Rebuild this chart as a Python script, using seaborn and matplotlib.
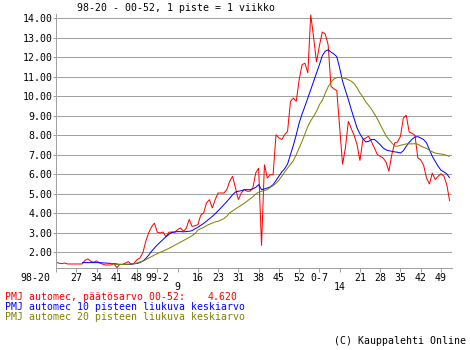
import matplotlib
matplotlib.use("Agg")
import matplotlib.pyplot as plt
import numpy as np
import pandas as pd
import seaborn as sns
from matplotlib import transforms

# ---------------- data ----------------
tick_labels = ["98-20", "27", "34", "41", "48", "99-2", "9", "16", "23", "31",
               "38", "45", "52", "0-7", "14", "21", "28", "35", "42", "49"]
tick_weeks = [0, 7, 14, 21, 28, 35, 42, 49, 56, 63,
              70, 77, 84, 91, 98, 105, 112, 119, 126, 133]
second_row = ["9", "14"]

close = [1.50, 1.44, 1.42, 1.45, 1.40, 1.40, 1.40, 1.40, 1.40, 1.40,
         1.59, 1.66, 1.54, 1.49, 1.56, 1.45, 1.40, 1.35, 1.35, 1.35,
         1.42, 1.21, 1.38, 1.38, 1.45, 1.52, 1.38, 1.45, 1.62, 1.71,
         1.97, 2.56, 2.99, 3.30, 3.50, 3.03, 2.99, 3.04, 2.79, 3.03,
         3.04, 3.03, 3.16, 3.25, 3.08, 3.22, 3.69, 3.33, 3.36, 3.42,
         3.90, 4.02, 4.53, 4.70, 4.27, 4.70, 5.04, 5.04, 5.04, 5.21,
         5.64, 5.90, 5.30, 4.70, 5.04, 5.21, 5.13, 5.13, 5.30, 6.07,
         6.32, 2.34, 6.50, 5.81, 5.98, 5.98, 8.03, 7.86, 7.78, 8.03,
         8.21, 9.74, 9.91, 9.74, 10.85, 11.62, 11.70, 11.20, 14.19, 13.00,
         11.75, 12.60, 13.30, 13.20, 12.65, 10.51, 10.38, 10.29, 8.38, 6.50,
         7.38, 8.72, 8.34, 8.00, 7.52, 6.70, 7.78, 7.86, 7.95, 7.66,
         7.35, 7.01, 6.92, 6.84, 6.63, 6.15, 7.01, 7.61, 7.66, 7.95,
         8.89, 9.03, 8.17, 8.10, 8.00, 6.84, 6.74, 6.46, 5.81, 5.50,
         6.07, 5.73, 5.90, 6.03, 5.90, 5.47, 4.62]

# 10-point moving average (first value at week index 9)
ma10 = [1.47, 1.47, 1.47, 1.47, 1.47, 1.47, 1.47, 1.46, 1.45, 1.44,
        1.43, 1.42, 1.40, 1.38, 1.38, 1.38, 1.38, 1.39, 1.41, 1.43,
        1.47, 1.55, 1.68, 1.85, 2.05, 2.22, 2.38, 2.52, 2.66, 2.80,
        2.92, 3.02, 3.04, 3.06, 3.06, 3.05, 3.06, 3.08, 3.11, 3.20,
        3.28, 3.38, 3.48, 3.60, 3.72, 3.84, 3.98, 4.13, 4.28, 4.44,
        4.60, 4.77, 4.95, 5.09, 5.13, 5.16, 5.21, 5.21, 5.21, 5.25,
        5.33, 5.47, 5.21, 5.25, 5.30, 5.35, 5.47, 5.68, 5.90, 6.12,
        6.29, 6.53, 7.01, 7.49, 8.03, 8.63, 9.09, 9.49, 9.91, 10.34,
        10.77, 11.20, 11.62, 12.09, 12.31, 12.38, 12.27, 12.17, 12.03, 11.45,
        10.77, 10.29, 9.83, 9.32, 8.85, 8.38, 8.07, 7.83, 7.66, 7.69,
        7.78, 7.79, 7.66, 7.52, 7.35, 7.25, 7.21, 7.18, 7.15, 7.13,
        7.09, 7.21, 7.44, 7.64, 7.80, 7.91, 7.93, 7.86, 7.78, 7.61,
        7.26, 6.92, 6.67, 6.41, 6.21, 6.12, 6.02, 5.81]

# 20-point moving average (first value at week index 19)
ma20 = [1.42, 1.40, 1.38, 1.37, 1.37, 1.38, 1.39, 1.40, 1.42, 1.45,
        1.50, 1.55, 1.62, 1.70, 1.78, 1.86, 1.93, 2.00, 2.06, 2.13,
        2.20, 2.28, 2.36, 2.44, 2.52, 2.60, 2.68, 2.76, 2.85, 2.96,
        3.13, 3.21, 3.28, 3.37, 3.44, 3.50, 3.56, 3.59, 3.66, 3.73,
        3.85, 4.02, 4.12, 4.22, 4.32, 4.41, 4.51, 4.62, 4.74, 4.84,
        4.99, 5.08, 5.13, 5.16, 5.21, 5.33, 5.42, 5.54, 5.69, 5.90,
        6.12, 6.32, 6.50, 6.70, 7.01, 7.35, 7.69, 8.07, 8.46, 8.75,
        8.97, 9.23, 9.57, 9.79, 10.15, 10.48, 10.72, 10.89, 10.96, 10.97,
        10.94, 10.91, 10.85, 10.77, 10.65, 10.43, 10.17, 9.97, 9.71, 9.54,
        9.33, 9.09, 8.85, 8.55, 8.26, 7.98, 7.78, 7.61, 7.45, 7.44,
        7.49, 7.52, 7.56, 7.56, 7.56, 7.57, 7.54, 7.45, 7.38, 7.33,
        7.23, 7.15, 7.09, 7.06, 7.04, 7.01, 6.97, 6.91]

title = "98-20 - 00-52, 1 piste = 1 viikko"
legend_close = "PMJ automec, päätösarvo 00-52:"
legend_ma10 = "PMJ automec 10 pisteen liukuva keskiarvo"
legend_ma20 = "PMJ automec 20 pisteen liukuva keskiarvo"
credit = "(C) Kauppalehti Online"

# ---------------- frame ----------------
n = len(close)
df = pd.DataFrame({
    "week": np.arange(n),
    "close": close,
    "ma10": [np.nan] * (n - len(ma10)) + ma10,
    "ma20": [np.nan] * (n - len(ma20)) + ma20,
})

sns.set_theme(style="white")
plt.rcParams["font.family"] = ["DejaVu Sans Mono", "DejaVu Sans"]

RED, BLUE, OLIVE = "#ff0000", "#0000ff", "#808000"
GRID = "#a0a0a0"
FS = 7.15
px = 0.72  # one pixel in points

W, H = 470, 350
fig = plt.figure(figsize=(W / 100, H / 100), dpi=100)
fig.patch.set_facecolor("white")
ax = fig.add_axes([56 / W, 1 - 267.5 / H, (452 - 56) / W, (267.5 - 14) / H])
ax.set_facecolor("white")

for col, c in (("close", RED), ("ma10", BLUE), ("ma20", OLIVE)):
    sns.lineplot(data=df, x="week", y=col, color=c, linewidth=1.0 * px,
                 estimator=None, ax=ax, antialiased=True,
                 solid_joinstyle="miter", solid_capstyle="butt")

ax.set_xlim(0, 136.8)
ax.set_ylim(1.22, 14.22)
ax.set_xlabel("")
ax.set_ylabel("")

ax.set_yticks(range(2, 15))
ax.set_yticklabels([f"{v:.2f}" for v in range(2, 15)])
ax.yaxis.grid(True, color=GRID, linewidth=1.0 * px, antialiased=False)
ax.xaxis.grid(False)
ax.set_axisbelow(True)

ax.set_xticks(tick_weeks)
ax.set_xticklabels(tick_labels)

for s in ("top", "right"):
    ax.spines[s].set_visible(False)
for s in ("left", "bottom"):
    ax.spines[s].set_color(GRID)
    ax.spines[s].set_linewidth(1.0 * px)

ax.tick_params(axis="y", which="major", left=True, length=2.3, width=px,
               color=GRID, pad=0.4, labelsize=FS, labelcolor="black")
ax.tick_params(axis="x", which="major", bottom=True, length=3.0, width=px,
               color=GRID, pad=0.8, labelsize=FS, labelcolor="black")

# first label sits left of its tick, two labels drop to a second row
for lbl in ax.get_xticklabels():
    txt = lbl.get_text()
    if txt == tick_labels[0]:
        lbl.set_horizontalalignment("right")
        lbl.set_transform(lbl.get_transform() +
                          transforms.ScaledTranslation(-6 / 100, 0, fig.dpi_scale_trans))
    elif txt in second_row:
        lbl.set_transform(lbl.get_transform() +
                          transforms.ScaledTranslation(0, -9 / 100, fig.dpi_scale_trans))

# ---------------- texts ----------------
fig.text(77 / W, 1 - 8 / H, title, ha="left", va="center", fontsize=FS, color="black")

fig.text(5 / W, 1 - 296.5 / H, legend_close, ha="left", va="center", fontsize=FS, color=RED)
fig.text(238 / W, 1 - 296.5 / H, f"{close[-1]:.3f}", ha="right", va="center",
         fontsize=FS, color=RED)
fig.text(5 / W, 1 - 306.5 / H, legend_ma10, ha="left", va="center", fontsize=FS, color=BLUE)
fig.text(5 / W, 1 - 317 / H, legend_ma20, ha="left", va="center", fontsize=FS, color=OLIVE)
fig.text(466 / W, 1 - 340.5 / H, credit, ha="right", va="center", fontsize=FS, color="black")

fig.savefig("out.png", dpi=100, facecolor="white")
